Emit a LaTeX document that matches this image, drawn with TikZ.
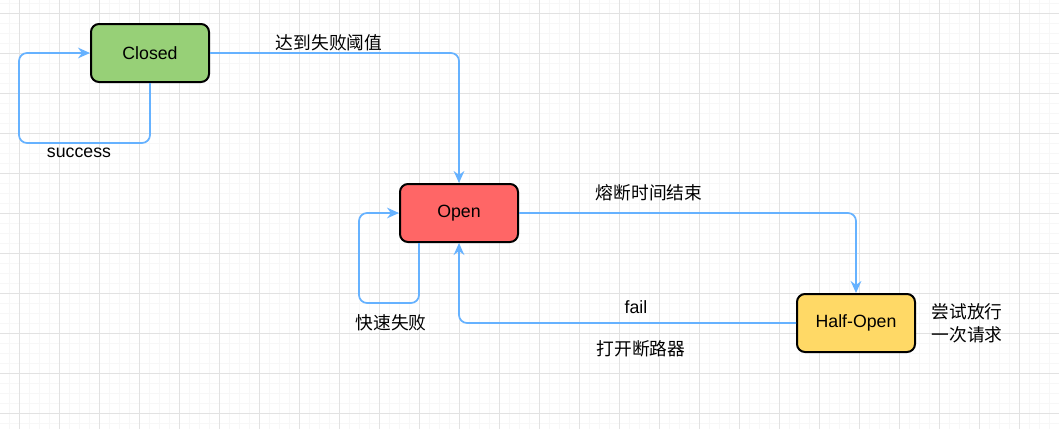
\documentclass[tikz,border=0pt]{standalone}
\usepackage{fontspec}
\setmainfont{Liberation Sans}
\newfontfamily\cjk{Noto Sans CJK SC}
\usetikzlibrary{arrows.meta}
\definecolor{edgeblue}{HTML}{66B2FF}
\definecolor{gclosed}{HTML}{97D077}
\definecolor{gopen}{HTML}{FF6666}
\definecolor{ghalf}{HTML}{FFD966}
\definecolor{gridminor}{HTML}{F7F7F7}
\definecolor{gridmajor}{HTML}{E2E2E2}
\tikzset{
  state/.style={draw=black, line width=1.5pt, rounded corners=6pt,
    minimum width=88.5pt, minimum height=43.5pt, inner sep=0pt,
    font=\fontsize{13.3}{15}\selectfont},
  edge/.style={draw=edgeblue, line width=1.3pt, rounded corners=6pt,
    -{Stealth[length=9pt,width=8pt,inset=3pt]}},
  lbl/.style={inner sep=0pt, font=\fontsize{13.3}{17}\selectfont},
  clbl/.style={inner sep=0pt, font=\fontsize{13.3}{17}\selectfont\cjk},
}
\begin{document}
\begin{tikzpicture}[x=0.75pt,y=-0.75pt]
\useasboundingbox (0,0) rectangle (1059,429);
\fill[white] (0,0) rectangle (1059,429);
% grid
\foreach \i in {-1,...,105} {\draw[gridminor,line width=0.75pt] (9+\i*10,0) -- (9+\i*10,429);}
\foreach \j in {0,...,43} {\draw[gridminor,line width=0.75pt] (0,3+\j*10) -- (1059,3+\j*10);}
\foreach \i in {0,...,26} {\draw[gridmajor,line width=0.75pt] (19+\i*40,0) -- (19+\i*40,429);}
\foreach \j in {0,...,10} {\draw[gridmajor,line width=0.75pt] (0,13+\j*40) -- (1059,13+\j*40);}
% nodes
\node[state, fill=gclosed] (closed) at (150,53) {Closed};
\node[state, fill=gopen] (open) at (459,213) {Open};
\node[state, fill=ghalf] (half) at (856,323) {Half-Open};
% coordinates
\coordinate (cl) at (19,143);
\coordinate (ol) at (359,303);
\coordinate (os) at (419,243);
% edges
\draw[edge] (closed.south) |- (cl) |- (closed.west);
\draw[edge] (closed.east) -| (open.north);
\draw[edge] (os) |- (ol) |- (open.west);
\draw[edge] (open.east) -| (half.north);
\draw[edge] (half.west) -| (open.south);
% labels
\node[lbl] (lsuccess) at (79,153) {success};
\node[clbl] (lthresh) at (329,43) {达到失败阈值};
\node[clbl] (ltime) at (649,193) {熔断时间结束};
\node[clbl] (lfast) at (391,323) {快速失败};
\node[lbl] (lfail) at (636,307) {fail};
\node[clbl] (lbreak) at (641,349) {打开断路器};
\node[clbl, align=left] (ltry) at (967,323) {尝试放行\\一次请求};
\end{tikzpicture}
\end{document}
